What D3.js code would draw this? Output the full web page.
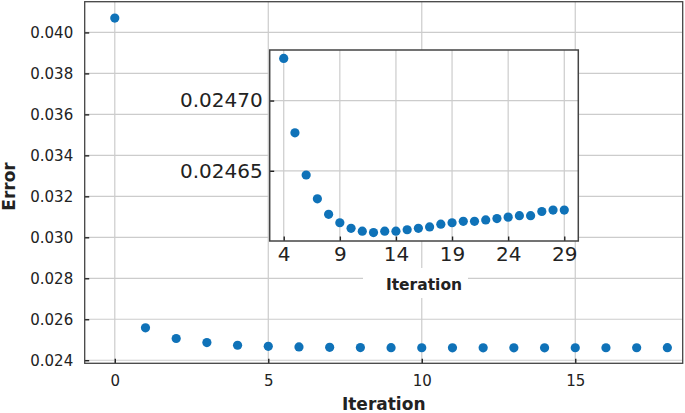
<!DOCTYPE html>
<html>
<head>
<meta charset="utf-8">
<script src="https://cdn.jsdelivr.net/npm/d3@7"></script>
<style>
  html, body { margin: 0; padding: 0; background: #fff; }
  svg { display: block; }
  text { font-family: "DejaVu Sans", sans-serif; fill: #222; }
</style>
</head>
<body>
<svg id="chart" width="685" height="413"></svg>
<script>
// ---- data ----
const iterations = d3.range(0, 30);
const errors = [
  0.04070, 0.02558, 0.02506, 0.02486, 0.024730, 0.024677, 0.024647, 0.024630,
  0.024619, 0.024613, 0.024609, 0.024607, 0.024606, 0.024607, 0.024607, 0.024608,
  0.024609, 0.024610, 0.024612, 0.024613, 0.024614, 0.024614, 0.024615, 0.024616,
  0.024617, 0.024618, 0.024618, 0.024621, 0.024622, 0.024622
];
const mainXTicks = [0, 5, 10, 15];
const mainYTicks = [0.024, 0.026, 0.028, 0.030, 0.032, 0.034, 0.036, 0.038, 0.040];
const insetXTicks = [4, 9, 14, 19, 24, 29];
const insetYTicks = [0.02465, 0.02470];
const mainRange = [0, 18];
const insetRange = [4, 29];
const xLabel = "Iteration";
const yLabel = "Error";

const pts = iterations.map((it, i) => ({ it, v: errors[i] }));
const mainPts = pts.filter(d => d.it >= mainRange[0] && d.it <= mainRange[1]);
const insetPts = pts.filter(d => d.it >= insetRange[0] && d.it <= insetRange[1]);

const svg = d3.select("#chart");
const dotColor = "#0f72b8";
const gridColor = "#cccccc";
const spineColor = "#444";

// ---- main axes ----
const M = { l: 84.7, r: 682.7, t: 1.7, b: 363.3 };
const x = d3.scaleLinear().domain([-0.98, 18.5]).range([M.l, M.r]);
const y = d3.scaleLinear().domain([0.02385, 0.0415]).range([M.b, M.t]);

const gMain = svg.append("g");
gMain.selectAll("line.vg").data(mainXTicks).join("line")
  .attr("x1", d => x(d)).attr("x2", d => x(d))
  .attr("y1", M.t).attr("y2", M.b)
  .attr("stroke", gridColor).attr("stroke-width", 1.2);
gMain.selectAll("line.hg").data(mainYTicks).join("line")
  .attr("class", "hg")
  .attr("x1", M.l).attr("x2", M.r)
  .attr("y1", d => y(d)).attr("y2", d => y(d))
  .attr("stroke", gridColor).attr("stroke-width", 1.2);

const xAxis = d3.axisBottom(x).tickValues(mainXTicks).tickFormat(d3.format("d"))
  .tickSizeInner(-4.5).tickSizeOuter(0).tickPadding(12);
const yAxis = d3.axisLeft(y).tickValues(mainYTicks).tickFormat(d3.format(".3f"))
  .tickSizeInner(-4.5).tickSizeOuter(0).tickPadding(11.5);

const gx = svg.append("g").attr("transform", `translate(0,${M.b})`).call(xAxis);
const gy = svg.append("g").attr("transform", `translate(${M.l},0)`).call(yAxis);
[gx, gy].forEach(g => {
  g.select(".domain").remove();
  g.selectAll(".tick line").attr("stroke", "#222").attr("stroke-width", 1.4);
  g.selectAll(".tick text").attr("font-size", 15).attr("fill", "#222")
    .attr("font-family", "DejaVu Sans");
});

svg.append("g").selectAll("circle").data(mainPts).join("circle")
  .attr("cx", d => x(d.it)).attr("cy", d => y(d.v)).attr("r", 4.6)
  .attr("fill", dotColor);

svg.append("rect").attr("x", M.l).attr("y", M.t)
  .attr("width", M.r - M.l).attr("height", M.b - M.t)
  .attr("fill", "none").attr("stroke", spineColor).attr("stroke-width", 1.3);

svg.append("text").attr("x", (M.l + M.r) / 2).attr("y", 410)
  .attr("text-anchor", "middle").attr("font-size", 17).attr("font-weight", "bold")
  .text(xLabel);
svg.append("text").attr("transform", `translate(15,${(M.t + M.b) / 2 + 4}) rotate(-90)`)
  .attr("text-anchor", "middle").attr("font-size", 17).attr("font-weight", "bold")
  .text(yLabel);

// ---- inset axes ----
const I = { l: 269.7, r: 578.3, t: 50, b: 241 };
const xi = d3.scaleLinear().domain([2.75, 30.25]).range([I.l, I.r]);
const yi = d3.scaleLinear().domain([0.02460, 0.024736]).range([I.b, I.t]);

svg.append("rect").attr("x", I.l).attr("y", I.t)
  .attr("width", I.r - I.l).attr("height", I.b - I.t).attr("fill", "#fff");

const gIn = svg.append("g");
gIn.selectAll("line.vg").data(insetXTicks).join("line")
  .attr("x1", d => xi(d)).attr("x2", d => xi(d))
  .attr("y1", I.t).attr("y2", I.b)
  .attr("stroke", gridColor).attr("stroke-width", 1.2);
gIn.selectAll("line.hg").data(insetYTicks).join("line")
  .attr("class", "hg")
  .attr("x1", I.l).attr("x2", I.r)
  .attr("y1", d => yi(d)).attr("y2", d => yi(d))
  .attr("stroke", gridColor).attr("stroke-width", 1.2);

const xiAxis = d3.axisBottom(xi).tickValues(insetXTicks).tickFormat(d3.format("d"))
  .tickSizeInner(-4.5).tickSizeOuter(0).tickPadding(6);
const yiAxis = d3.axisLeft(yi).tickValues(insetYTicks).tickFormat(d3.format(".5f"))
  .tickSizeInner(-4.5).tickSizeOuter(0).tickPadding(7);
const gxi = svg.append("g").attr("transform", `translate(0,${I.b})`).call(xiAxis);
const gyi = svg.append("g").attr("transform", `translate(${I.l},0)`).call(yiAxis);
[gxi, gyi].forEach(g => {
  g.select(".domain").remove();
  g.selectAll(".tick line").attr("stroke", "#222").attr("stroke-width", 1.4);
  g.selectAll(".tick text").attr("font-size", 20).attr("fill", "#222")
    .attr("font-family", "DejaVu Sans");
});

svg.append("g").selectAll("circle").data(insetPts).join("circle")
  .attr("cx", d => xi(d.it)).attr("cy", d => yi(d.v)).attr("r", 4.6)
  .attr("fill", dotColor);

svg.append("rect").attr("x", I.l).attr("y", I.t)
  .attr("width", I.r - I.l).attr("height", I.b - I.t)
  .attr("fill", "none").attr("stroke", spineColor).attr("stroke-width", 1.5);

// inset x label with white box
const lbl = svg.append("g");
lbl.append("rect").attr("x", 363).attr("y", 268).attr("width", 105).attr("height", 30)
  .attr("fill", "#fff");
lbl.append("text").attr("x", (I.l + I.r) / 2).attr("y", 289.5)
  .attr("text-anchor", "middle").attr("font-size", 15.5).attr("font-weight", "bold")
  .text(xLabel);
</script>
</body>
</html>
